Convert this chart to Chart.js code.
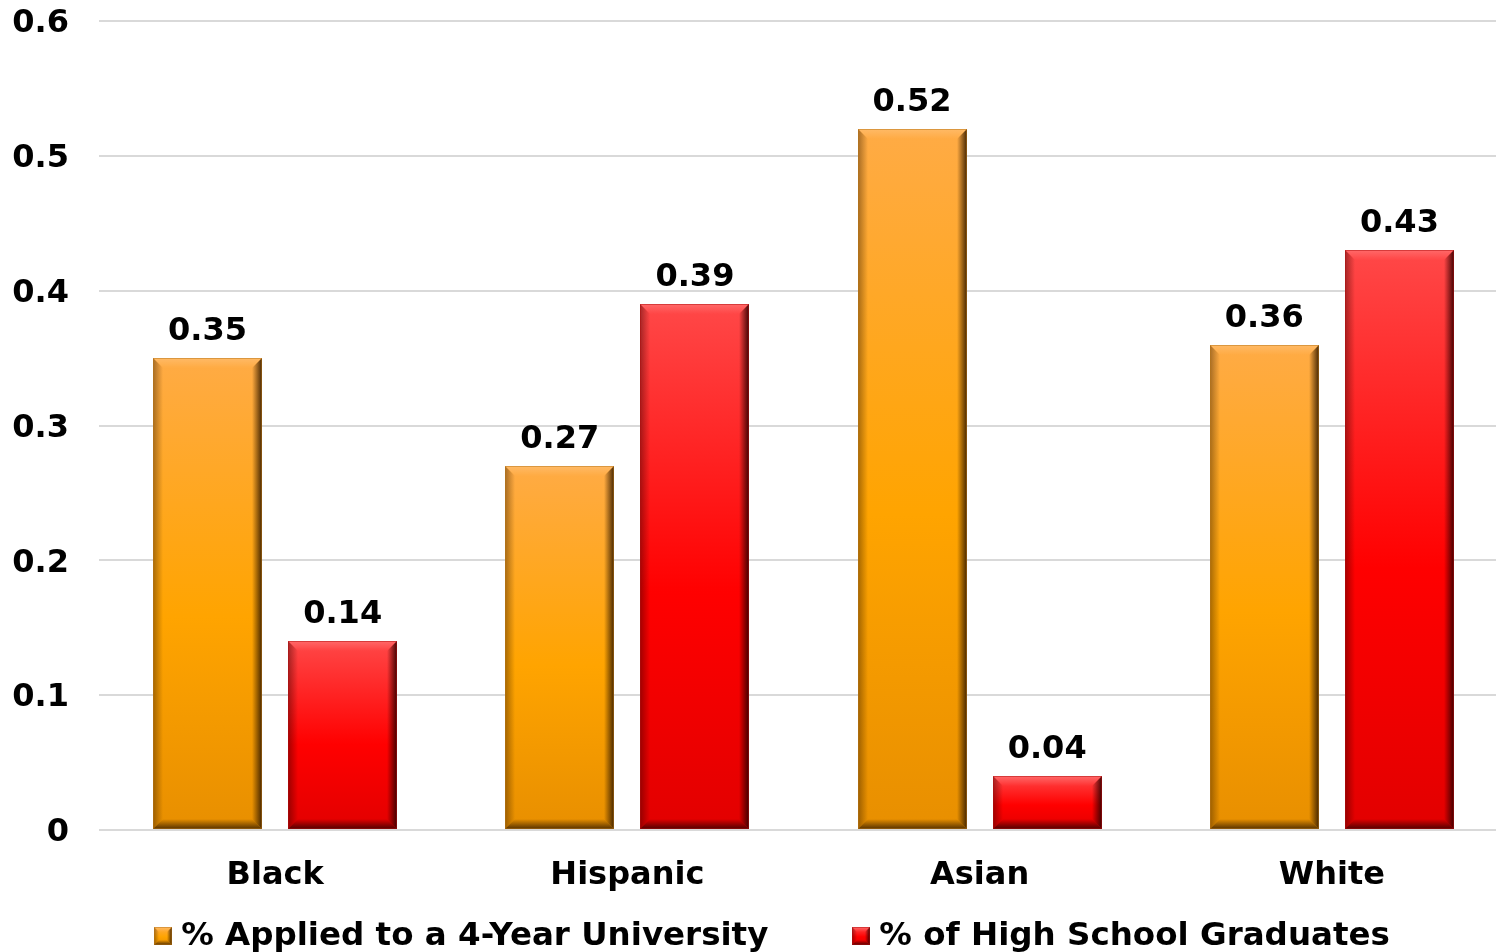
<!DOCTYPE html>
<html>
<head>
<meta charset="utf-8">
<script src="https://cdn.jsdelivr.net/npm/chart.js@4/dist/chart.umd.min.js"></script>
<style>
  html, body { margin: 0; padding: 0; background: #fff; overflow: hidden; }
  #wrap { position: relative; width: 1510px; height: 952px; }
</style>
</head>
<body>
<div id="wrap"><canvas id="chart"></canvas></div>
<script>
// Share of students by group
const categories = ['Black', 'Hispanic', 'Asian', 'White'];
const appliedLabel = '% Applied to a 4-Year University';
const graduatesLabel = '% of High School Graduates';
const appliedValues = [0.35, 0.27, 0.52, 0.36];
const graduatesValues = [0.14, 0.39, 0.04, 0.43];
const yTicks = [0, 0.1, 0.2, 0.3, 0.4, 0.5, 0.6];

const FONT = '"DejaVu Sans", Verdana, sans-serif';
const FS = 32;
const LEGEND_FS = 32.5;

// Colour ramps for the bevelled bars
const palettes = {
  orange: { top: '#ffab45', mid: '#ffa400', bot: '#e88f00', edge: 'rgba(60,32,0,', outline: '#b8761a' },
  red:    { top: '#ff4848', mid: '#ff0000', bot: '#e20000', edge: 'rgba(55,0,0,',  outline: '#b01010' }
};

function drawBevelRect(ctx, x0, y0, x1, y1, pal, bevel) {
  const w = x1 - x0, h = y1 - y0;
  if (w <= 0 || h <= 0) return;
  const b = Math.min(bevel, w / 2, h / 2);
  ctx.save();
  // body
  const g = ctx.createLinearGradient(0, y0, 0, y1);
  g.addColorStop(0, pal.top);
  g.addColorStop(0.55, pal.mid);
  g.addColorStop(1, pal.bot);
  ctx.fillStyle = g;
  ctx.fillRect(x0, y0, w, h);
  // top bevel (light)
  ctx.beginPath();
  ctx.moveTo(x0, y0); ctx.lineTo(x1, y0); ctx.lineTo(x1 - b, y0 + b); ctx.lineTo(x0 + b, y0 + b); ctx.closePath();
  let gt = ctx.createLinearGradient(0, y0, 0, y0 + b);
  gt.addColorStop(0, 'rgba(255,255,255,0.18)');
  gt.addColorStop(1, 'rgba(255,255,255,0.0)');
  ctx.fillStyle = gt;
  ctx.fill();
  // left bevel (shade)
  ctx.beginPath();
  ctx.moveTo(x0, y0); ctx.lineTo(x0 + b, y0 + b); ctx.lineTo(x0 + b, y1 - b); ctx.lineTo(x0, y1); ctx.closePath();
  let gl = ctx.createLinearGradient(x0, 0, x0 + b, 0);
  gl.addColorStop(0, pal.edge + '0.45)');
  gl.addColorStop(1, pal.edge + '0.0)');
  ctx.fillStyle = gl;
  ctx.fill();
  // right bevel (dark)
  ctx.beginPath();
  ctx.moveTo(x1, y0); ctx.lineTo(x1, y1); ctx.lineTo(x1 - b, y1 - b); ctx.lineTo(x1 - b, y0 + b); ctx.closePath();
  let gr = ctx.createLinearGradient(x1 - b, 0, x1, 0);
  gr.addColorStop(0, pal.edge + '0.0)');
  gr.addColorStop(1, pal.edge + '0.95)');
  ctx.fillStyle = gr;
  ctx.fill();
  // bottom bevel (dark)
  ctx.beginPath();
  ctx.moveTo(x0, y1); ctx.lineTo(x1, y1); ctx.lineTo(x1 - b, y1 - b); ctx.lineTo(x0 + b, y1 - b); ctx.closePath();
  let gb = ctx.createLinearGradient(0, y1 - b, 0, y1);
  gb.addColorStop(0, pal.edge + '0.0)');
  gb.addColorStop(1, pal.edge + '0.85)');
  ctx.fillStyle = gb;
  ctx.fill();
  // thin outline
  ctx.strokeStyle = pal.outline;
  ctx.globalAlpha = 0.5;
  ctx.lineWidth = 1;
  ctx.strokeRect(x0 + 0.5, y0 + 0.5, w - 1, h - 1);
  ctx.restore();
}

const seriesPalettes = [palettes.orange, palettes.red];

// Draws each bar with bevelled edges from the element geometry, then its value label
const bevelBars = {
  id: 'bevelBars',
  afterDatasetsDraw(chart) {
    const ctx = chart.ctx;
    chart.data.datasets.forEach((ds, di) => {
      const meta = chart.getDatasetMeta(di);
      meta.data.forEach((bar, i) => {
        const p = bar.getProps(['x', 'y', 'base', 'width'], true);
        const x0 = Math.round(p.x - p.width / 2), x1 = Math.round(p.x + p.width / 2);
        const y0 = Math.round(p.y), y1 = Math.round(p.base);
        drawBevelRect(ctx, x0, y0, x1, y1, seriesPalettes[di], 10);
        ctx.save();
        ctx.font = 'bold ' + FS + 'px ' + FONT;
        ctx.fillStyle = '#000';
        ctx.textAlign = 'center';
        ctx.textBaseline = 'alphabetic';
        ctx.fillText(ds.data[i].toFixed(2), p.x, y0 - 18);
        ctx.restore();
      });
    });
  }
};

// Legend row under the category labels
const bevelLegend = {
  id: 'bevelLegend',
  afterDraw(chart) {
    const ctx = chart.ctx;
    const box = 18, gapText = 9, gapItem = 84, centerX = 772, midY = 936;
    ctx.save();
    ctx.font = 'bold ' + LEGEND_FS + 'px ' + FONT;
    const items = chart.data.datasets.map((ds, i) => ({ text: ds.label, pal: seriesPalettes[i], w: ctx.measureText(ds.label).width }));
    const total = items.reduce((s, it) => s + box + gapText + it.w, 0) + gapItem * (items.length - 1);
    let x = centerX - total / 2;
    items.forEach(it => {
      drawBevelRect(ctx, Math.round(x), midY - 9, Math.round(x) + box, midY + 9, it.pal, 5);
      ctx.fillStyle = '#000';
      ctx.textAlign = 'left';
      ctx.textBaseline = 'middle';
      ctx.fillText(it.text, x + box + gapText, midY + 1);
      x += box + gapText + it.w + gapItem;
    });
    ctx.restore();
  }
};

new Chart(document.getElementById('chart'), {
  type: 'bar',
  data: {
    labels: categories,
    datasets: [
      { label: appliedLabel, data: appliedValues, backgroundColor: 'rgba(0,0,0,0)' },
      { label: graduatesLabel, data: graduatesValues, backgroundColor: 'rgba(0,0,0,0)' }
    ]
  },
  options: {
    responsive: true,
    maintainAspectRatio: false,
    animation: false,
    devicePixelRatio: 1,
    layout: { padding: { top: 21, right: 2, bottom: 40, left: 0 } },
    datasets: { bar: { categoryPercentage: 0.767, barPercentage: 0.807 } },
    scales: {
      x: {
        grid: { display: false, drawTicks: false },
        border: { display: false },
        ticks: { color: '#000', font: { family: FONT, size: FS, weight: 'bold' }, padding: 26 },
        afterFit(s) { s.height = 82; s.paddingLeft = 0; s.paddingRight = 0; }
      },
      y: {
        min: 0, max: 0.6,
        afterBuildTicks(s) { s.ticks = yTicks.map(v => ({ value: v })); },
        grid: { color: '#d9d9d9', lineWidth: 2, drawTicks: false },
        border: { display: false },
        ticks: {
          color: '#000', padding: 30, labelOffset: 3,
          font: { family: FONT, size: FS, weight: 'bold' },
          callback: v => (v === 0 ? '0' : String(+v.toFixed(1)))
        },
        afterFit(s) { s.width = 99; s.paddingTop = 0; s.paddingBottom = 0; }
      }
    },
    plugins: {
      tooltip: { enabled: false },
      legend: { display: false }
    }
  },
  plugins: [bevelBars, bevelLegend]
});
</script>
</body>
</html>
